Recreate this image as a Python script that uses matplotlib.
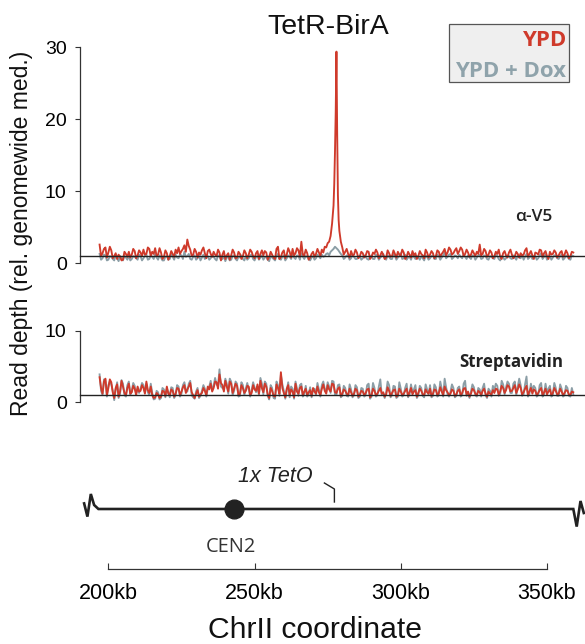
import numpy as np
import matplotlib
matplotlib.use("Agg")
import matplotlib.pyplot as plt
from matplotlib.patches import Rectangle

# ---------------- data ----------------
bin_start_kb = 197          # first whole-kb bin; half-kb bins sit in between
# alpha-V5 ChIP, YPD (red) -- whole-kb bins 197..359
v5_ypd = [2.6, 1.4, 2.2, 1.5, 1.8, 1.0, 0.6, 0.9, 0.5, 1.3,
          1.6, 1.2, 1.7, 1.1, 1.5, 1.9, 1.3, 2.0, 1.6, 2.1,
          1.2, 1.5, 0.9, 1.4, 1.0, 1.3, 1.9, 2.2, 1.7, 2.5,
          3.3, 1.9, 1.2, 1.6, 1.5, 1.8, 1.4, 1.7, 1.3, 1.6,
          1.0, 1.5, 1.2, 0.6, 1.4, 1.1, 1.5, 0.8, 1.3, 1.0,
          1.4, 1.2, 1.6, 0.7, 1.7, 1.3, 1.1, 1.5, 0.9, 1.2,
          0.6, 2.3, 0.9, 1.8, 1.2, 1.6, 2.0, 1.4, 1.8, 3.0,
          1.1, 1.4, 0.8, 1.6, 1.3, 1.5, 1.9, 2.3, 2.8, 3.8,
          8.0, 29.4, 4.5, 2.2, 1.6, 1.3, 1.7, 1.2, 1.5, 1.0,
          1.4, 1.1, 1.6, 0.9, 1.3, 1.5, 1.1, 1.2, 0.8, 1.4,
          1.0, 1.3, 1.6, 1.1, 1.5, 0.9, 1.2, 1.7, 1.4, 1.0,
          1.3, 0.7, 1.5, 1.2, 1.4, 1.0, 1.6, 1.3, 2.0, 1.5,
          1.9, 1.4, 2.1, 1.7, 1.9, 1.3, 1.5, 1.2, 1.4, 1.6,
          2.6, 1.3, 1.7, 1.2, 1.5, 1.0, 1.3, 0.9, 1.4, 1.1,
          1.5, 1.2, 1.0, 1.3, 1.4, 1.2, 2.1, 1.3, 1.1, 1.5,
          1.2, 1.8, 1.4, 1.0, 1.6, 1.3, 1.5, 1.1, 1.7, 1.2,
          1.4, 1.0, 1.5]
# half-kb bins 197.5..358.5
v5_ypd_mid = [1.0, 2.0, 0.8, 2.3, 0.7, 1.4, 1.2, 0.4, 1.6, 0.9,
              0.8, 2.0, 0.7, 1.8, 1.0, 1.2, 2.2, 1.0, 1.3, 1.0,
              2.1, 0.6, 1.8, 0.5, 1.7, 0.9, 1.4, 1.3, 2.0, 1.6,
              2.4, 1.0, 2.0, 0.8, 1.2, 2.2, 0.7, 1.9, 0.9, 1.2,
              1.9, 0.4, 1.7, 1.1, 0.5, 1.9, 0.7, 1.6, 0.6, 1.8,
              0.7, 1.9, 1.0, 1.4, 0.6, 1.8, 1.7, 0.5, 1.6, 0.8,
              2.0, 0.6, 1.5, 0.7, 2.1, 0.8, 1.1, 2.1, 0.9, 1.2,
              1.9, 0.5, 1.3, 0.9, 2.0, 1.0, 1.5, 2.2, 3.0, 5.5,
              15.5, 9.5, 3.0, 1.2, 2.0, 0.8, 1.1, 1.9, 0.7, 1.6,
              0.8, 1.7, 0.6, 1.5, 1.9, 0.7, 1.6, 0.6, 1.8, 0.9,
              1.8, 0.8, 1.2, 1.9, 0.6, 1.6, 0.8, 1.1, 0.6, 1.7,
              1.1, 1.9, 0.8, 1.7, 0.7, 1.8, 0.9, 1.6, 1.1, 2.2,
              1.2, 1.8, 1.3, 2.2, 1.0, 1.9, 0.9, 1.8, 1.0, 1.3,
              1.1, 2.0, 0.9, 1.8, 0.7, 1.6, 1.9, 0.6, 1.7, 0.8,
              1.9, 0.7, 1.6, 0.8, 1.1, 1.8, 0.9, 1.7, 0.6, 1.4,
              1.9, 0.9, 1.7, 0.6, 1.2, 1.8, 0.8, 1.5, 0.9, 1.8,
              0.7, 1.6]
# extra points resolving the TetO peak (kb, value)
peak_pos_kb = [277.25, 277.75, 278.25, 278.75]
peak_v5_ypd = [11.0, 21.0, 18.0, 6.0]

# alpha-V5 ChIP, YPD + Dox (grey)
v5_dox = [1.3, 0.7, 1.1, 0.5, 0.9, 0.4, 0.7, 1.0, 0.4, 0.8,
          1.1, 0.6, 0.9, 0.5, 1.0, 0.7, 1.2, 0.6, 0.9, 1.3,
          0.5, 0.8, 0.4, 1.0, 0.6, 0.9, 1.2, 0.7, 1.1, 1.6,
          1.0, 0.6, 0.9, 0.5, 1.1, 0.8, 0.6, 1.0, 0.7, 0.9,
          0.4, 1.0, 0.6, 0.3, 0.9, 0.5, 1.1, 0.4, 0.8, 0.6,
          1.0, 0.7, 1.2, 0.4, 1.0, 0.8, 0.5, 0.9, 0.3, 0.8,
          0.4, 1.3, 0.5, 1.1, 0.7, 0.9, 1.2, 0.6, 1.0, 1.4,
          0.6, 0.9, 0.4, 1.0, 0.7, 1.0, 1.2, 1.0, 1.4, 1.6,
          2.0, 2.1, 1.6, 1.1, 0.8, 1.0, 0.7, 0.9, 0.6, 1.0,
          0.7, 0.9, 0.5, 1.1, 0.6, 1.0, 0.8, 1.3, 0.5, 0.9,
          0.6, 1.0, 0.8, 1.4, 0.7, 0.5, 0.9, 1.1, 0.6, 0.8,
          1.0, 0.4, 0.9, 0.7, 1.1, 0.6, 1.0, 0.8, 1.5, 0.9,
          1.3, 0.8, 1.0, 1.2, 0.7, 0.9, 1.1, 0.6, 1.0, 0.8,
          1.2, 0.7, 1.0, 0.5, 0.9, 0.6, 1.0, 0.4, 0.8, 0.7,
          1.0, 0.6, 0.8, 1.1, 0.7, 0.5, 1.3, 0.8, 0.6, 1.0,
          0.7, 1.4, 0.9, 0.5, 1.0, 0.8, 1.1, 0.6, 1.2, 0.7,
          0.9, 0.5, 1.0]
v5_dox_mid = [0.5, 1.2, 0.4, 1.0, 0.6, 1.1, 0.3, 0.8, 1.0, 0.5,
              0.4, 1.0, 0.7, 1.2, 0.4, 1.0, 0.5, 1.1, 0.6, 0.8,
              1.1, 0.4, 0.9, 0.5, 1.2, 0.5, 0.8, 1.2, 0.6, 0.9,
              1.3, 0.5, 1.1, 0.7, 0.4, 1.2, 0.9, 0.5, 1.2, 0.6,
              1.1, 0.5, 1.0, 0.8, 0.4, 1.0, 0.6, 0.9, 1.1, 0.4,
              0.5, 1.1, 0.6, 0.9, 0.5, 1.1, 0.8, 0.5, 1.0, 0.6,
              1.0, 0.6, 0.9, 0.4, 1.1, 0.6, 0.8, 1.1, 0.5, 0.9,
              1.0, 0.6, 0.8, 0.5, 1.2, 0.7, 0.9, 1.3, 1.1, 1.8,
              2.3, 1.9, 1.3, 0.6, 1.1, 0.5, 1.2, 0.6, 0.9, 0.5,
              1.1, 0.6, 0.9, 0.6, 1.2, 0.5, 1.0, 0.7, 1.1, 0.6,
              1.2, 0.5, 1.0, 0.6, 1.2, 0.8, 0.5, 0.9, 1.0, 0.5,
              0.7, 1.1, 0.5, 1.0, 0.6, 1.2, 0.5, 1.1, 0.7, 1.2,
              0.6, 1.1, 0.7, 0.9, 1.2, 0.6, 0.8, 1.1, 0.5, 1.1,
              0.6, 1.1, 0.6, 1.0, 0.7, 1.2, 0.6, 1.0, 0.5, 1.1,
              0.7, 1.1, 0.5, 0.8, 1.2, 0.9, 0.6, 1.1, 0.9, 0.5,
              1.1, 0.6, 1.2, 0.8, 0.5, 1.1, 0.7, 1.0, 0.5, 1.1,
              0.6, 1.1]

# Streptavidin pulldown, YPD (red)
sa_ypd = [3.5, 1.2, 3.3, 2.0, 2.8, 0.6, 2.5, 1.5, 2.2, 1.0,
          2.6, 1.4, 1.9, 2.2, 1.6, 2.0, 2.9, 1.3, 1.0, 0.7,
          1.1, 0.8, 1.5, 2.2, 1.0, 1.6, 1.2, 1.9, 1.5, 2.4,
          1.8, 2.7, 1.0, 1.2, 0.8, 1.3, 1.6, 2.2, 2.6, 2.0,
          2.8, 3.9, 2.4, 3.0, 1.5, 2.6, 1.9, 2.3, 1.2, 2.0,
          1.6, 2.2, 1.3, 1.8, 2.5, 3.0, 1.4, 2.2, 0.6, 1.6,
          0.8, 2.0, 4.2, 1.3, 1.9, 1.0, 1.5, 2.6, 1.2, 2.2,
          1.5, 1.0, 1.7, 2.0, 1.2, 1.4, 1.9, 1.6, 2.4, 1.5,
          2.5, 1.3, 2.1, 1.2, 1.6, 1.0, 1.4, 1.2, 1.7, 1.1,
          1.5, 1.3, 1.9, 1.0, 1.6, 1.2, 2.0, 1.4, 1.1, 1.6,
          1.3, 1.8, 1.0, 1.5, 1.2, 1.9, 1.4, 1.1, 1.7, 1.3,
          1.6, 1.0, 1.4, 1.9, 1.2, 1.7, 1.3, 1.5, 2.2, 1.4,
          1.2, 1.6, 1.1, 1.8, 1.3, 2.0, 1.5, 1.2, 1.7, 1.0,
          1.4, 1.6, 1.2, 1.5, 1.1, 1.3, 1.8, 1.5, 2.0, 1.7,
          2.2, 1.6, 2.4, 1.8, 2.0, 1.4, 2.3, 1.5, 1.2, 1.6,
          1.3, 2.0, 1.4, 1.1, 1.8, 1.3, 1.6, 1.2, 1.5, 1.3,
          1.6, 1.0, 1.4]
sa_ypd_mid = [2.0, 2.9, 1.0, 3.2, 1.4, 2.0, 0.8, 3.0, 1.3, 2.0,
              1.2, 2.3, 1.0, 1.5, 2.4, 1.2, 1.7, 2.2, 0.6, 1.3,
              0.6, 1.6, 0.9, 1.2, 1.8, 0.8, 2.0, 1.0, 2.1, 1.3,
              2.2, 1.4, 0.6, 1.7, 1.1, 2.0, 1.0, 1.8, 1.5, 2.9,
              1.9, 2.7, 1.5, 2.2, 2.9, 1.3, 2.6, 1.0, 2.4, 1.3,
              2.3, 1.0, 2.4, 1.6, 1.2, 2.0, 2.6, 1.1, 2.0, 0.9,
              2.5, 1.2, 2.0, 0.7, 2.4, 1.8, 0.7, 1.5, 2.0, 1.0,
              1.9, 1.4, 0.9, 1.5, 2.2, 1.0, 2.5, 1.2, 1.8, 2.6,
              1.4, 1.9, 0.9, 1.8, 1.2, 1.9, 0.9, 1.9, 0.8, 1.6,
              1.0, 1.8, 0.7, 1.9, 1.0, 1.6, 1.2, 0.8, 2.1, 0.9,
              1.7, 0.8, 1.9, 1.0, 1.6, 0.9, 2.0, 1.5, 0.8, 1.9,
              1.1, 1.8, 1.2, 0.9, 1.8, 1.0, 2.1, 1.0, 1.7, 1.0,
              1.8, 0.9, 1.6, 1.0, 1.9, 1.1, 0.8, 1.9, 1.2, 1.6,
              1.0, 1.9, 0.8, 1.2, 1.7, 1.9, 1.1, 2.3, 1.3, 2.4,
              1.5, 2.0, 1.3, 2.5, 1.1, 1.9, 1.0, 2.0, 1.8, 1.0,
              1.7, 1.0, 1.9, 1.5, 1.0, 2.0, 1.1, 1.9, 1.0, 1.7,
              1.1, 1.5]

# Streptavidin pulldown, YPD + Dox (grey)
sa_dox = [3.9, 1.0, 3.0, 2.4, 2.5, 0.3, 2.8, 1.2, 2.6, 0.8,
          2.9, 1.6, 2.3, 1.8, 1.9, 2.4, 2.6, 1.0, 1.3, 0.5,
          1.4, 0.6, 1.8, 1.9, 0.7, 2.0, 1.0, 2.2, 1.2, 2.8,
          1.5, 3.0, 0.7, 1.5, 0.6, 1.6, 1.9, 1.9, 3.0, 2.3,
          2.5, 4.6, 2.0, 3.3, 1.2, 2.9, 1.6, 2.6, 0.9, 2.4,
          1.9, 1.8, 1.7, 2.1, 2.2, 3.4, 1.1, 2.6, 0.4, 2.0,
          0.5, 2.4, 3.8, 1.6, 1.6, 0.7, 1.9, 2.9, 0.9, 2.6,
          1.2, 0.8, 2.1, 1.7, 1.0, 1.8, 2.4, 1.9, 2.8, 1.3,
          2.9, 1.0, 2.5, 0.9, 2.0, 0.8, 1.8, 1.0, 2.1, 0.8,
          1.9, 1.0, 2.6, 0.8, 2.0, 1.0, 3.2, 1.2, 1.4, 2.4,
          1.0, 2.2, 0.8, 1.9, 1.0, 2.6, 1.1, 1.4, 2.4, 1.0,
          2.0, 0.7, 1.8, 2.4, 0.9, 2.1, 1.0, 1.9, 3.3, 1.1,
          1.5, 2.0, 0.9, 2.2, 1.0, 3.0, 1.2, 1.5, 2.1, 0.8,
          1.8, 2.0, 1.0, 1.9, 0.8, 1.7, 2.3, 1.2, 2.5, 2.1,
          2.6, 1.3, 2.9, 2.2, 2.4, 1.1, 3.6, 1.2, 1.6, 2.0,
          1.0, 2.7, 1.1, 1.4, 2.3, 1.0, 2.0, 0.9, 1.9, 1.0,
          2.0, 0.8, 1.1]
sa_dox_mid = [1.6, 3.2, 0.8, 2.9, 1.6, 1.7, 0.6, 3.1, 1.0, 2.4,
              1.0, 2.7, 1.3, 1.3, 2.7, 1.4, 1.4, 2.6, 0.4, 1.6,
              0.4, 2.0, 0.7, 1.4, 2.1, 0.6, 2.4, 0.8, 2.4, 1.7,
              2.6, 1.0, 0.5, 2.0, 0.9, 2.4, 0.8, 2.2, 1.7, 3.4,
              2.3, 2.2, 1.8, 2.6, 3.3, 1.0, 2.9, 0.8, 2.8, 1.0,
              2.7, 0.8, 2.8, 1.4, 1.0, 2.6, 2.9, 0.9, 2.4, 0.6,
              2.9, 0.9, 2.5, 0.5, 2.8, 2.2, 0.5, 1.9, 2.4, 0.8,
              2.3, 1.1, 0.7, 1.9, 2.7, 0.8, 2.9, 1.4, 2.2, 3.0,
              1.1, 2.4, 0.7, 2.3, 0.9, 2.5, 0.7, 2.4, 0.6, 2.0,
              0.8, 2.4, 0.5, 2.7, 0.8, 2.2, 1.0, 0.6, 2.9, 0.7,
              2.3, 0.6, 2.8, 0.8, 2.0, 0.7, 2.5, 1.8, 0.6, 2.3,
              0.9, 2.5, 1.0, 0.7, 2.5, 0.8, 2.9, 0.8, 2.1, 0.8,
              2.5, 0.7, 2.0, 0.8, 2.6, 0.9, 0.6, 2.5, 1.0, 2.0,
              0.8, 2.6, 0.6, 1.6, 2.3, 2.6, 0.9, 3.0, 1.1, 2.9,
              1.3, 2.6, 1.0, 3.3, 0.9, 2.5, 0.8, 2.6, 2.3, 0.8,
              2.4, 0.8, 2.6, 1.9, 0.8, 2.7, 0.9, 2.5, 0.8, 2.3,
              0.9, 2.0]

median_level = 1.0
x_ticks_kb = [200, 250, 300, 350]
x_tick_labels = ["200kb", "250kb", "300kb", "350kb"]
top_yticks = [0, 10, 20, 30]
bot_yticks = [0, 10]
chrom_start_kb, chrom_end_kb = 196.6, 359.0
cen2_kb = 243.0
teto_kb = 277.3

# ---------------- style ----------------
RED = "#cf3a2b"
GREY = "#8b9ea6"
DARK = "#222222"
W, H = 585, 644
XMIN, XMAX = 190.3, 363.0
LW = 1.35

plt.rcParams["font.family"] = ["Liberation Sans", "DejaVu Sans"]

fig = plt.figure(figsize=(W / 100, H / 100), dpi=100)


def box(left, top, right, bottom):
    return [left / W, 1 - bottom / H, (right - left) / W, (bottom - top) / H]


def merged(whole, half, extra_pos=(), extra_val=()):
    p = np.concatenate([bin_start_kb + np.arange(len(whole)),
                        bin_start_kb + 0.5 + np.arange(len(half)),
                        np.asarray(extra_pos, float)])
    v = np.concatenate([whole, half, np.asarray(extra_val, float)])
    o = np.argsort(p)
    return p[o], v[o]


def style_track(ax, ymax, ticks):
    ax.set_xlim(XMIN, XMAX)
    ax.set_ylim(0, ymax)
    for s in ["top", "right", "bottom"]:
        ax.spines[s].set_visible(False)
    ax.spines["left"].set_bounds(0, ymax)
    ax.spines["left"].set_color("#333333")
    ax.spines["left"].set_linewidth(0.9)
    ax.set_xticks([])
    ax.set_yticks(ticks)
    ax.set_yticklabels([str(t) for t in ticks])
    ax.tick_params(axis="y", length=3.6, width=0.8, color="#333333",
                   labelsize=14, pad=6)
    ax.patch.set_alpha(0)
    ax.axhline(median_level, color=DARK, lw=1.0, zorder=5, clip_on=False)


ax1 = fig.add_axes(box(80, 47.3, 585, 263.3))
style_track(ax1, 30, top_yticks)
ax1.plot(*merged(v5_dox, v5_dox_mid), color=GREY, lw=LW, zorder=2,
         clip_on=False)
ax1.plot(*merged(v5_ypd, v5_ypd_mid, peak_pos_kb, peak_v5_ypd), color=RED,
         lw=LW, zorder=3, clip_on=False)

ax2 = fig.add_axes(box(80, 330.7, 585, 402.3))
style_track(ax2, 10, bot_yticks)
ax2.plot(*merged(sa_dox, sa_dox_mid), color=GREY, lw=LW, zorder=2,
         clip_on=False)
ax2.plot(*merged(sa_ypd, sa_ypd_mid), color=RED, lw=LW, zorder=3,
         clip_on=False)

# panel labels
fig.text(552 / W, 1 - 217 / H, "α-V5", ha="right", va="center",
         fontsize=12.5, color=DARK, family=["Open Sans", "DejaVu Sans"],
         fontweight="semibold")
fig.text(563 / W, 1 - 362 / H, "Streptavidin", ha="right", va="center",
         fontsize=12.2, color=DARK, family=["Open Sans", "DejaVu Sans"],
         fontweight="bold")

# chromosome schematic
ax3 = fig.add_axes(box(80, 469, 585, 549))
ax3.set_xlim(XMIN, XMAX)
ax3.set_ylim(-1, 1)
ax3.axis("off")
kb_per_px = (XMAX - XMIN) / 505.0
lz = [(-14.3, 0.14), (-11.0, -0.19), (-7.6, 0.375), (-4.3, 0.1), (0, 0)]
rz = [(0, 0), (3.4, -0.44), (7.2, 0.2), (10.5, -0.1)]
cx = [chrom_start_kb + dx * kb_per_px for dx, _ in lz] + \
     [chrom_end_kb + dx * kb_per_px for dx, _ in rz]
cy = [dy for _, dy in lz] + [dy for _, dy in rz]
ax3.plot(cx, cy, color=DARK, lw=1.9, solid_joinstyle="miter", clip_on=False)
ax3.plot([cen2_kb], [0], "o", ms=13.5, color=DARK, clip_on=False, zorder=4)
ax3.plot([teto_kb - 10 * kb_per_px, teto_kb, teto_kb], [0.65, 0.5, 0.175],
         color=DARK, lw=1.0, clip_on=False)
ax3.text(257.2, 0.68, "1x TetO", ha="center", va="baseline", fontsize=15.5,
         style="italic", color=DARK)
ax3.text(cen2_kb - 1.0, -1.07, "CEN2", ha="center", va="baseline",
         fontsize=14.4, color="#333333", family=["Open Sans", "DejaVu Sans"])

# coordinate axis
ax4 = fig.add_axes(box(80, 559, 585, 569))
ax4.set_xlim(XMIN, XMAX)
ax4.set_yticks([])
for s in ["top", "right", "left"]:
    ax4.spines[s].set_visible(False)
ax4.spines["bottom"].set_bounds(x_ticks_kb[0], x_ticks_kb[-1])
ax4.spines["bottom"].set_color("#333333")
ax4.spines["bottom"].set_linewidth(0.9)
ax4.set_xticks(x_ticks_kb)
ax4.set_xticklabels(x_tick_labels)
ax4.tick_params(axis="x", direction="in", length=4, width=0.8,
                color="#333333", labelsize=15.5, pad=10)
ax4.patch.set_alpha(0)

fig.text(315 / W, 1 - 638 / H, "ChrII coordinate", ha="center",
         va="baseline", fontsize=21.7, color="#111111")
fig.text(328 / W, 1 - 34 / H, "TetR-BirA", ha="center", va="baseline",
         fontsize=20.5, color="#111111")
fig.text(22 / W, 1 - 233 / H, "Read depth (rel. genomewide med.)",
         rotation=90, ha="center", va="center", fontsize=16.5,
         color="#111111")

# legend box
fig.patches.append(Rectangle((449.3 / W, 1 - 82 / H), (569 - 449.3) / W,
                             (82 - 24.3) / H, transform=fig.transFigure,
                             facecolor="#efefef", edgecolor="#555555",
                             lw=0.9, zorder=1))
fig.text(566 / W, 1 - 46 / H, "YPD", ha="right", va="baseline",
         fontsize=16, color=RED, fontweight="bold",
         family=["Open Sans", "DejaVu Sans"], zorder=2)
fig.text(566.5 / W, 1 - 77 / H, "YPD + Dox", ha="right", va="baseline",
         fontsize=16, color="#8fa3ab", fontweight="bold",
         family=["Open Sans", "DejaVu Sans"], zorder=2)

fig.savefig("out.png", dpi=100)
